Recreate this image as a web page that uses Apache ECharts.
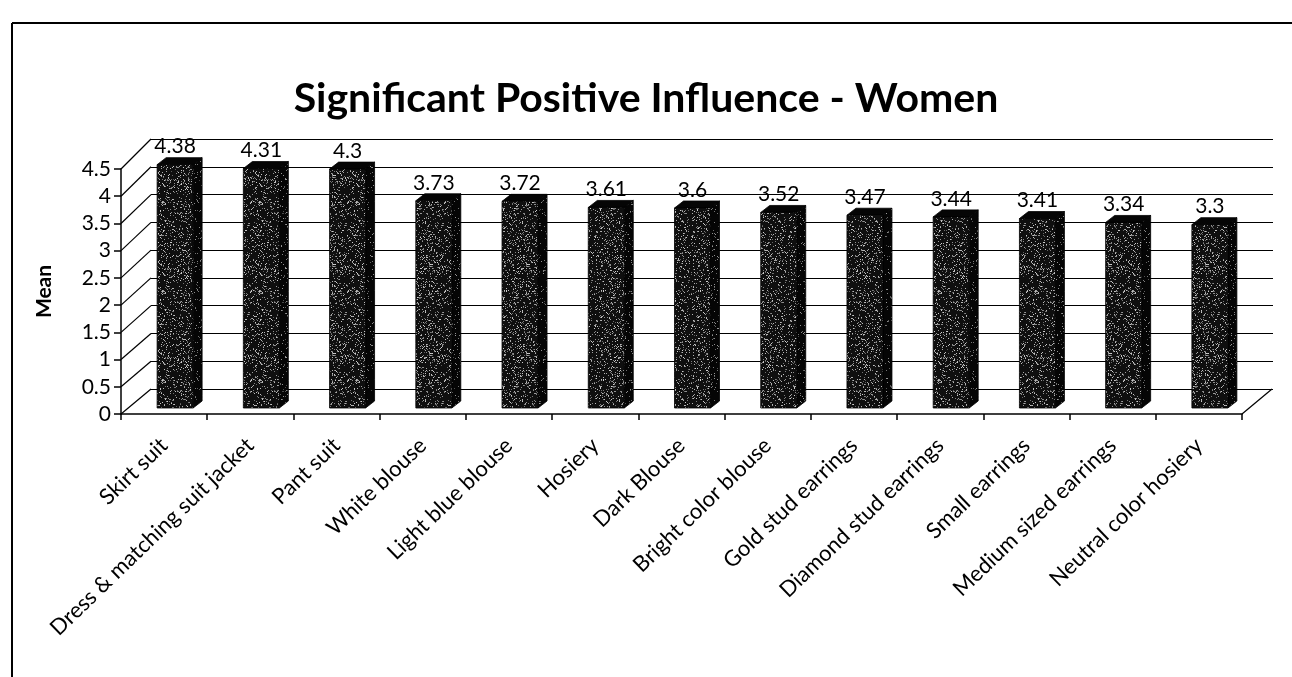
<!DOCTYPE html>
<html>
<head>
<meta charset="utf-8">
<script src="https://cdn.jsdelivr.net/npm/echarts@6/dist/echarts.min.js"></script>
<style>
html,body{margin:0;padding:0;background:#fff;}
#main{width:1292px;height:677px;}
</style>
</head>
<body>
<div id="main"></div>
<script>
const categories = ['Skirt suit','Dress & matching suit jacket','Pant suit','White blouse','Light blue blouse','Hosiery','Dark Blouse','Bright color blouse','Gold stud earrings','Diamond stud earrings','Small earrings','Medium sized earrings','Neutral color hosiery'];
const values = [4.38,4.31,4.3,3.73,3.72,3.61,3.6,3.52,3.47,3.44,3.41,3.34,3.3];
const yTicks = [0,0.5,1,1.5,2,2.5,3,3.5,4,4.5];
const titleText = 'Significant Positive Influence - Women';
const yName = 'Mean';

const FONT = 'Lato';
const DEPTH_X = 30, DEPTH_Y = 25, PERSP = 1.11;
const BAR_W = 36, BDX = 9, BDY = 7;

function speckle(density, base, lo, span){
  const c = document.createElement('canvas');
  c.width = 97; c.height = 89;
  const ctx = c.getContext('2d');
  ctx.fillStyle = base; ctx.fillRect(0,0,c.width,c.height);
  for(let y=0;y<c.height;y++){
    for(let x=0;x<c.width;x++){
      let h = (x*374761393 + y*668265263) >>> 0;
      h = ((h ^ (h >>> 13)) * 1274126177) >>> 0;
      h = (h ^ (h >>> 16)) >>> 0;
      if((h % 1000) < density){
        const g = lo + (h >>> 10) % span;
        ctx.fillStyle = 'rgb('+g+','+g+','+g+')';
        ctx.fillRect(x,y,1,1);
      }
    }
  }
  return c;
}
const frontPat = speckle(160, '#0f0f0f', 90, 120);
const sidePat = speckle(60, '#050505', 70, 90);

const chart = echarts.init(document.getElementById('main'), null, {renderer:'canvas'});
const option = {
  backgroundColor:'#fff',
  animation:false,
  title:{
    text:titleText, left:'center', top:73,
    textStyle:{fontFamily:FONT, fontWeight:'bold', fontSize:41, color:'#000'}
  },
  graphic:[
    {type:'line', shape:{x1:12,y1:23,x2:1292,y2:23}, style:{stroke:'#000',lineWidth:2}},
    {type:'line', shape:{x1:12,y1:23,x2:12,y2:677}, style:{stroke:'#000',lineWidth:2}}
  ],
  grid:[
    {left:151, right:19, top:139, bottom:288},
    {left:121, right:50, top:169, bottom:263},
    {left:132, right:39, top:158, bottom:269}
  ],
  xAxis:[
    {gridIndex:0, type:'value', min:0, max:1, show:false},
    {gridIndex:1, type:'category', data:categories,
      axisLine:{show:true, lineStyle:{color:'#000', width:1.5}},
      axisTick:{show:true, interval:0, length:6, lineStyle:{color:'#000', width:1.5}},
      axisLabel:{interval:0, rotate:44, fontFamily:FONT, fontSize:22, color:'#000', margin:28}
    },
    {gridIndex:2, type:'category', data:categories, show:false}
  ],
  yAxis:[
    {gridIndex:0, type:'value', min:0, max:4.5, interval:0.5,
      axisLine:{show:false}, axisTick:{show:false}, axisLabel:{show:false},
      splitLine:{show:true, lineStyle:{color:'#000', width:1.2}}},
    {gridIndex:1, type:'value', min:0, max:4.5, interval:0.5,
      name:yName, nameLocation:'middle', nameGap:66,
      nameTextStyle:{fontFamily:FONT, fontWeight:'bold', fontSize:21, color:'#000'},
      axisLine:{show:true, lineStyle:{color:'#000', width:1.5}},
      axisTick:{show:true, length:7, lineStyle:{color:'#000', width:1.5}},
      axisLabel:{fontFamily:FONT, fontSize:21, color:'#000', margin:10},
      splitLine:{show:false}},
    {gridIndex:2, type:'value', min:0, max:4.5, show:false}
  ],
  series:[
    {
      type:'custom', xAxisIndex:1, yAxisIndex:1, clip:false, z:3,
      data: yTicks.map(v => [0, v]),
      renderItem:function(params, api){
        const v = api.value(1);
        const p = api.coord([0, v]);
        const bw = api.size([1, 0])[0];
        const left = p[0] - bw/2;
        const dy = DEPTH_Y + v*PERSP;
        const children = [{
          type:'line', shape:{x1:left, y1:p[1], x2:left+DEPTH_X, y2:p[1]-dy},
          style:{stroke:'#000', lineWidth:1.2}
        }];
        if(v === 0){
          const right = left + bw*categories.length;
          children.push({
            type:'line', shape:{x1:right, y1:p[1], x2:right+DEPTH_X, y2:p[1]-dy},
            style:{stroke:'#000', lineWidth:1.2}
          });
        }
        return {type:'group', children:children};
      }
    },
    {
      type:'custom', xAxisIndex:2, yAxisIndex:2, clip:false, z:5,
      data: values.map((v,i) => [i, v]),
      renderItem:function(params, api){
        const i = api.value(0), v = api.value(1);
        const t = api.coord([i, v]);
        const b = api.coord([i, 0]);
        const xl = t[0]-BAR_W/2, xr = t[0]+BAR_W/2;
        return {type:'group', children:[
          {type:'polygon', shape:{points:[[xr,t[1]],[xr+BDX,t[1]-BDY],[xr+BDX,b[1]-BDY],[xr,b[1]]]},
            style:{fill:{image:sidePat, repeat:'repeat'}, stroke:'#000', lineWidth:0.8}},
          {type:'polygon', shape:{points:[[xl,t[1]],[xl+BDX,t[1]-BDY],[xr+BDX,t[1]-BDY],[xr,t[1]]]},
            style:{fill:'#050505', stroke:'#000', lineWidth:0.8}},
          {type:'rect', shape:{x:xl, y:t[1], width:BAR_W, height:b[1]-t[1]},
            style:{fill:{image:frontPat, repeat:'repeat'}, stroke:'#000', lineWidth:0.8}},
          {type:'text', style:{text:String(v), x:t[0], y:t[1]-18, align:'center', verticalAlign:'middle',
            fontFamily:FONT, fontSize:21, fill:'#000'}}
        ]};
      }
    }
  ]
};
chart.setOption(option);
</script>
</body>
</html>
